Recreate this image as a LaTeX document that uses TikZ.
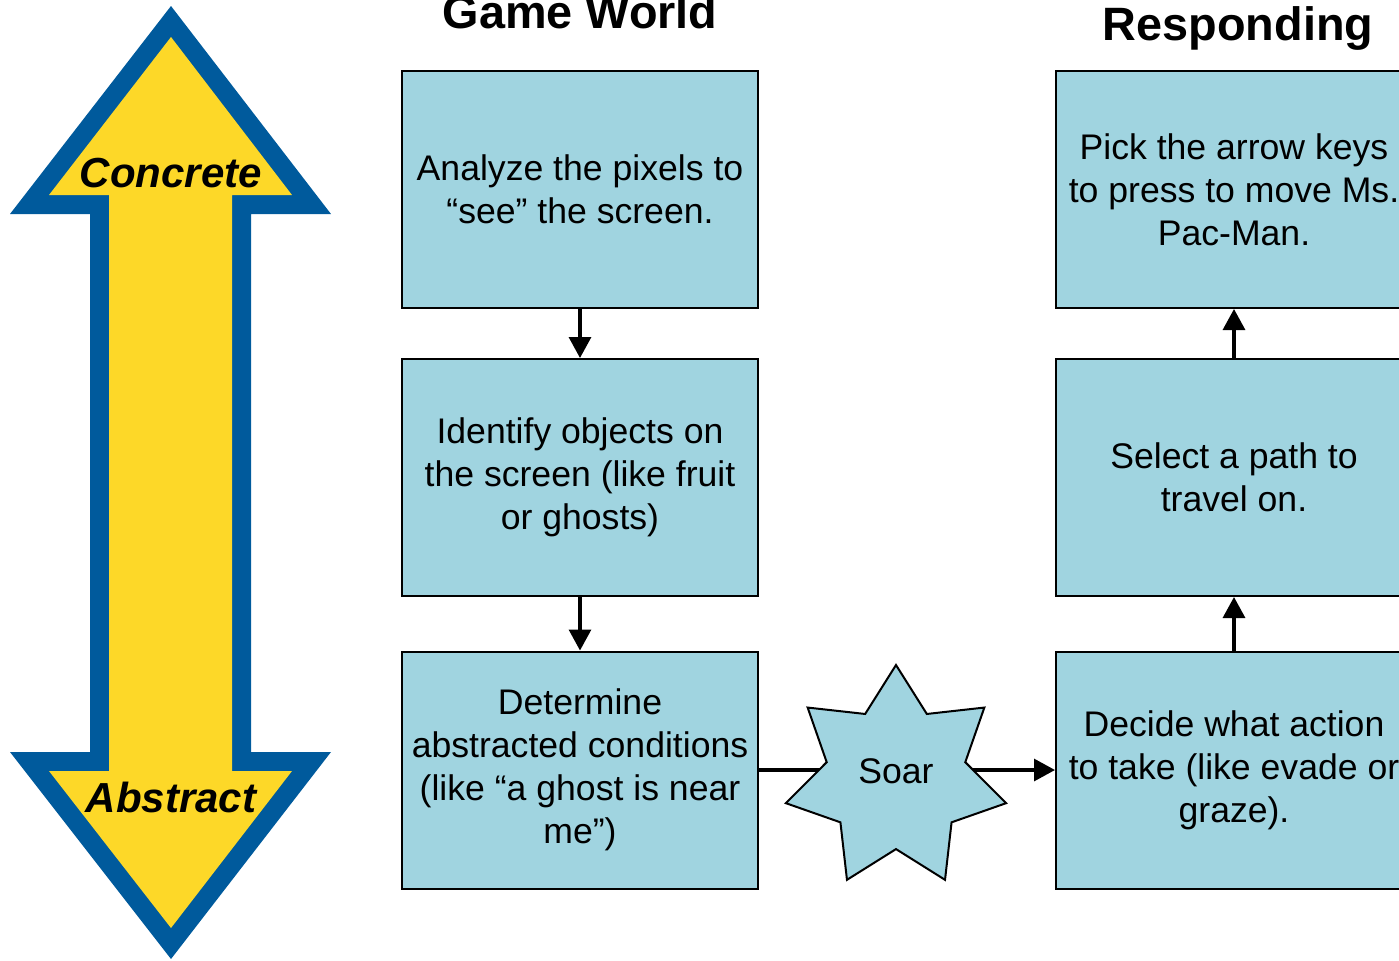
\documentclass[tikz,border=0pt]{standalone}
\usepackage{fontspec}
\setmainfont{Liberation Sans}
\usetikzlibrary{shapes.geometric,arrows.meta}
\definecolor{boxblue}{RGB}{160,212,224}
\definecolor{arrowblue}{RGB}{0,90,156}
\definecolor{arrowyellow}{RGB}{253,216,40}
\tikzset{
  stepbox/.style={draw=black,line width=1pt,fill=boxblue,minimum width=178pt,minimum height=118.5pt,
    inner sep=2pt,align=center,font=\fontsize{17.8pt}{21.5pt}\selectfont},
  conn/.style={line width=1.6pt,-{Triangle[length=10.5pt,width=11pt]}},
  title/.style={anchor=base,font=\bfseries\fontsize{23.4pt}{28pt}\selectfont},
  scaletxt/.style={anchor=base,font=\bfseries\itshape\fontsize{21pt}{25pt}\selectfont}
}
\begin{document}
\begin{tikzpicture}[x=0.5pt,y=-0.5pt]
\useasboundingbox (0,0) rectangle (1399,960);
\clip (0,0) rectangle (1399,960);
% big double arrow
\fill[arrowblue] (171,6) -- (331,214) -- (251,214) -- (251,752) -- (331,752) -- (171,959)
  -- (10,752) -- (90,752) -- (90,214) -- (10,214) -- cycle;
\fill[arrowyellow] (171,37) -- (292,195) -- (232,195) -- (232,771) -- (292,771) -- (171,928)
  -- (49,771) -- (109,771) -- (109,195) -- (49,195) -- cycle;
\node[scaletxt] (concrete) at (171,187) {Concrete};
\node[scaletxt] (abstract) at (171,812) {Abstract};
% titles
\node[title] (gw) at (580,28) {Game World};
\node[title] (resp) at (1238,40) {Responding};
% boxes
\node[stepbox] (b1) at (580,189.5) {Analyze the pixels to\\“see” the screen.};
\node[stepbox] (b2) at (580,477.5) {Identify objects on\\the screen (like fruit\\or ghosts)};
\node[stepbox] (b3) at (580,770) {Determine\\abstracted conditions\\(like “a ghost is near\\me”)};
\node[stepbox] (r1) at (1234,189.5) {Pick the arrow keys\\to press to move Ms.\\Pac-Man.};
\node[stepbox] (r2) at (1234,477.5) {Select a path to\\travel on.};
\node[stepbox] (r3) at (1234,770) {Decide what action\\to take (like evade or\\graze).};
% connectors
\draw[conn] (b1.south) -- (b2.north);
\draw[conn] (b2.south) -- (b3.north);
\draw[conn] (r3.north) -- (r2.south);
\draw[conn] (r2.north) -- (r1.south);
\draw[conn] (b3.east) -- (r3.west);
% star
\node[star,star points=7,star point ratio=1.59,minimum size=113pt,inner sep=0pt,
  draw=black,line width=1pt,fill=boxblue] (soar) at (896,778) {};
\node[font=\fontsize{17.8pt}{21.5pt}\selectfont] (soartxt) at (896,771) {Soar};
\end{tikzpicture}
\end{document}
